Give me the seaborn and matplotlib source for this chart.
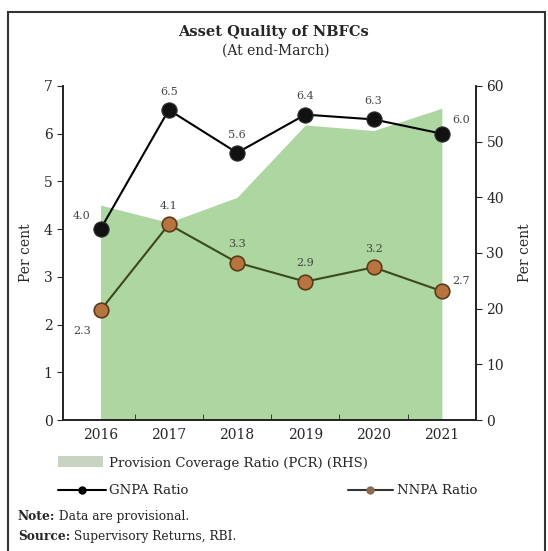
import numpy as np
import pandas as pd
import seaborn as sns
import matplotlib
matplotlib.use("Agg")
import matplotlib.pyplot as plt
from matplotlib.patches import Patch, Rectangle
from matplotlib.lines import Line2D

years = ["2016", "2017", "2018", "2019", "2020", "2021"]
gnpa = [4.0, 6.5, 5.6, 6.4, 6.3, 6.0]
nnpa = [2.3, 4.1, 3.3, 2.9, 3.2, 2.7]
pcr = [38.6, 35.5, 40.0, 53.0, 52.0, 56.0]
left_ticks = [0, 1, 2, 3, 4, 5, 6, 7]
right_ticks = [0, 10, 20, 30, 40, 50, 60]

sns.set_style("ticks")
plt.rcParams['font.family'] = ['DejaVu Serif']

df = pd.DataFrame({"pos": np.arange(len(years)), "year": years,
                   "gnpa": gnpa, "nnpa": nnpa, "pcr": pcr})

fig = plt.figure(figsize=(5.48, 5.51), dpi=100)
ax = fig.add_axes([63/548, 1-420/551, (476-63)/548, (420-86)/551])
ax2 = ax.twinx()
ax.set_zorder(ax2.get_zorder() + 1)
ax.patch.set_visible(False)

# area (RHS)
ax2.fill_between(df["pos"], df["pcr"], 0, color="#a9d49b", linewidth=0, alpha=0.95)
ax2.set_ylim(0, 60)
ax2.set_yticks(right_ticks)
ax2.set_ylabel("Per cent", fontsize=10, labelpad=10)

sns.lineplot(data=df, x="pos", y="gnpa", ax=ax, color="black", lw=1.5,
             marker="o", markersize=11, markerfacecolor="#111111",
             markeredgecolor="#333333", legend=False)
sns.lineplot(data=df, x="pos", y="nnpa", ax=ax, color="#3b4a1c", lw=1.5,
             marker="o", markersize=10.5, markerfacecolor="#b8743e",
             markeredgecolor="#5a3a1a", markeredgewidth=1.2, legend=False)

ax.set_ylim(0, 7)
ax.set_yticks(left_ticks)
ax.set_xlim(-0.55, 5.5)
ax.set_xticks(df["pos"])
ax.set_xticklabels(years, fontsize=10)
ax.set_xticks(np.arange(0.5, 5.5, 1.0), minor=True)
ax.tick_params(axis="x", which="major", length=0, pad=6)
ax.tick_params(axis="x", which="minor", length=4, direction="in")
ax.tick_params(axis="y", labelsize=10, length=4, direction="out")
ax2.tick_params(axis="y", labelsize=10, length=4, direction="out")
ax.set_xlabel("")
ax.set_ylabel("Per cent", fontsize=10, labelpad=8)

for a in (ax, ax2):
    a.spines["top"].set_visible(False)
    for s in ("left", "right", "bottom"):
        a.spines[s].set_linewidth(1.2)
        a.spines[s].set_color("#222222")

lab_kw = dict(fontsize=8, color="#444444", ha="center")
for i, v in enumerate(gnpa):
    if i == 0:
        ax.annotate(f"{v:.1f}", (i, v), xytext=(-14, 7), textcoords="offset points", **lab_kw)
    elif i == 5:
        ax.annotate(f"{v:.1f}", (i, v), xytext=(14, 8), textcoords="offset points", **lab_kw)
    else:
        ax.annotate(f"{v:.1f}", (i, v), xytext=(0, 11), textcoords="offset points", **lab_kw)
for i, v in enumerate(nnpa):
    if i == 0:
        ax.annotate(f"{v:.1f}", (i, v), xytext=(-13, -17), textcoords="offset points", **lab_kw)
    elif i == 5:
        ax.annotate(f"{v:.1f}", (i, v), xytext=(14, 5), textcoords="offset points", **lab_kw)
    else:
        ax.annotate(f"{v:.1f}", (i, v), xytext=(0, 11), textcoords="offset points", **lab_kw)

fig.text(273/548, 1-32/551, "Asset Quality of NBFCs", ha="center", va="center",
         fontsize=10.5, fontweight="bold")
fig.text(276/548, 1-51/551, "(At end-March)", ha="center", va="center", fontsize=10)

# legends
h1 = [Patch(facecolor="#c9d3c2", edgecolor="none")]
fig.legend(h1, ["Provision Coverage Ratio (PCR) (RHS)"], loc="center left",
           bbox_to_anchor=(58/548, 1-463/551), frameon=False, fontsize=9.5,
           handlelength=3.4, handleheight=0.9, handletextpad=0.5,
           borderpad=0, borderaxespad=0)
h2 = [Line2D([0], [0], color="black", lw=1.5, marker="o", markersize=5)]
fig.legend(h2, ["GNPA Ratio"], loc="center left", bbox_to_anchor=(58/548, 1-491/551),
           frameon=False, fontsize=9.5, handlelength=3.6, handletextpad=0.3,
           numpoints=1, borderpad=0, borderaxespad=0)
h3 = [Line2D([0], [0], color="#333333", lw=1.5, marker="o", markersize=5,
             markerfacecolor="#8a6a50", markeredgecolor="#8a6a50")]
fig.legend(h3, ["NNPA Ratio"], loc="center left", bbox_to_anchor=(348/548, 1-491/551),
           frameon=False, fontsize=9.5, handlelength=3.4, handletextpad=0.3,
           numpoints=1, borderpad=0, borderaxespad=0)

for ypix, bold, rest in [(520, "Note:", " Data are provisional."),
                         (540, "Source:", " Supervisory Returns, RBI.")]:
    t = fig.text(18/548, 1-ypix/551, bold, ha="left", va="baseline",
                 fontsize=8.8, fontweight="bold")
    fig.texts.append(plt.Annotation(rest, xy=(1, 0), xycoords=t, ha="left",
                                    va="bottom", fontsize=8.8))
    fig.texts[-1].set_figure(fig)

fig.patches.append(Rectangle((8/548, -0.05), (545-8)/548, 1.05 - 12/551,
                             transform=fig.transFigure, fill=False,
                             edgecolor="#333333", linewidth=1.5))

fig.savefig("out.png", dpi=100)
